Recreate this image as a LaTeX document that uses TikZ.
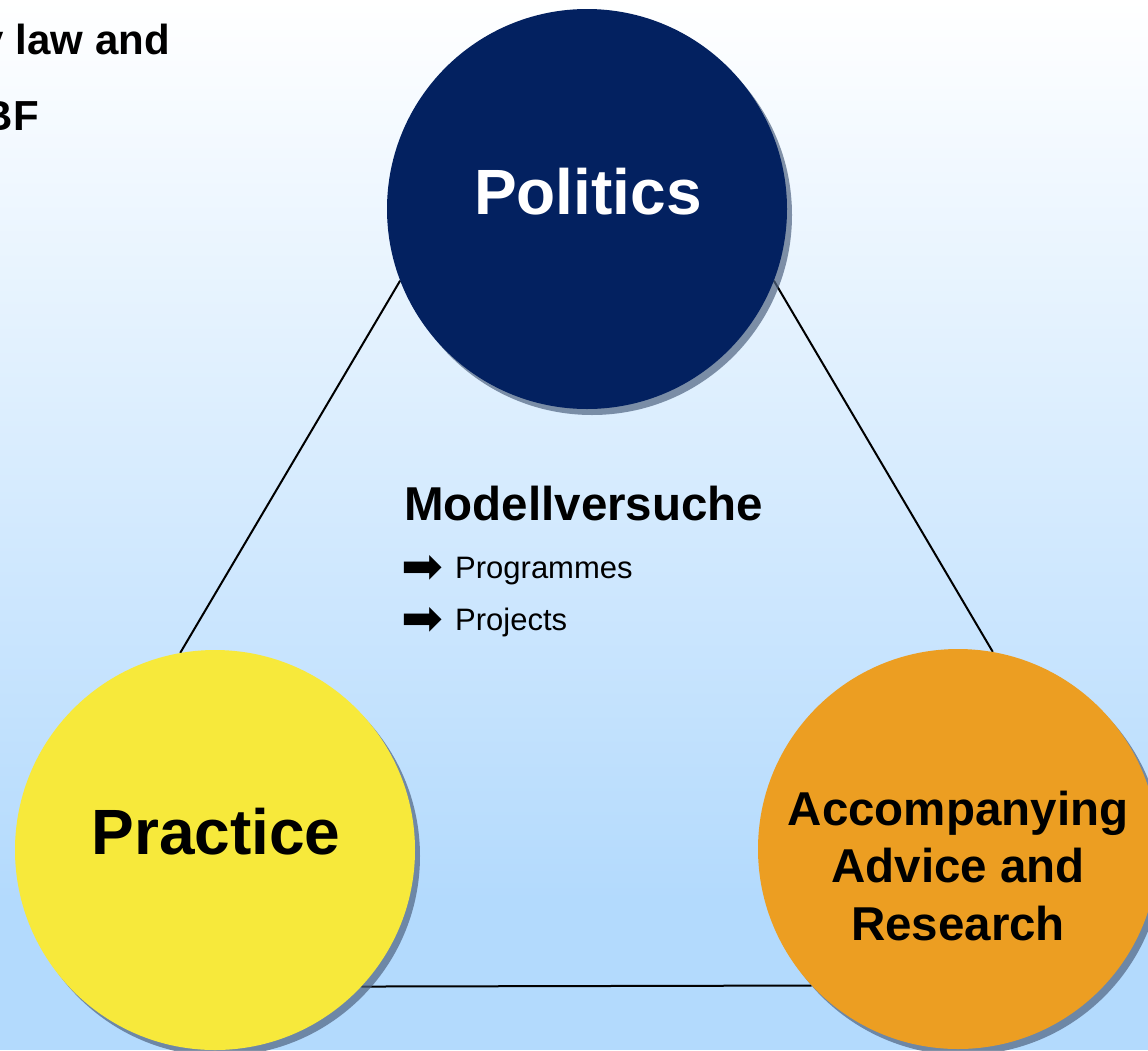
\documentclass[tikz,border=0pt]{standalone}
\usepackage{fontspec}
\setmainfont{Liberation Sans}
\newfontfamily\symfont{DejaVu Sans}
\usetikzlibrary{shadows}
\definecolor{navy}{RGB}{3,33,96}
\definecolor{sun}{RGB}{247,233,59}
\definecolor{amber}{RGB}{236,158,34}
\definecolor{bgblue}{RGB}{179,218,253}
\definecolor{shade}{RGB}{80,100,130}
\tikzset{
  bubble/.style={circle, minimum size=400pt, inner sep=0pt, draw=none,
    drop shadow={shadow xshift=5pt, shadow yshift=-6pt, fill=shade, opacity=0.7}},
  bigtitle/.style={anchor=base, inner sep=0pt, font=\fontsize{64}{64}\selectfont\bfseries},
  midtitle/.style={anchor=base, inner sep=0pt, font=\fontsize{47.5}{47.5}\selectfont\bfseries},
  cornertext/.style={anchor=base east, inner sep=0pt, font=\fontsize{42}{42}\selectfont\bfseries},
  itemtext/.style={anchor=base west, inner sep=0pt, font=\fontsize{31}{31}\selectfont},
  bulletarrow/.style={anchor=west, inner sep=0pt, font=\symfont\fontsize{50}{50}\selectfont},
  edge/.style={draw=black, line width=2pt}
}
\begin{document}
\begin{tikzpicture}[x=1pt,y=-1pt]
\useasboundingbox (0,0) rectangle (1148,1050);
\clip (0,0) rectangle (1148,1050);
% background
\fill[top color=white, bottom color=bgblue] (0,0) rectangle (1148,900);
\fill[bgblue] (0,899) rectangle (1148,1050);

% corner text (cut by the edge)
\node[cornertext] (c1) at (170,54) {by law and};
\node[cornertext] (c2) at (39,130) {BMBF};

% circles (positions)
\coordinate (polc) at (587,209);
\coordinate (prac) at (215,850);
\coordinate (accc) at (958,849);

% triangle edges (behind circles)
\path (polc) node[circle, minimum size=400pt, inner sep=0pt] (polx) {};
\path (prac) node[circle, minimum size=400pt, inner sep=0pt] (prax) {};
\path (accc) node[circle, minimum size=400pt, inner sep=0pt] (accx) {};
\draw[edge] (polx.201) -- (prax.100);
\draw[edge] (polx.339) -- (accx.80);
\draw[edge] (prax.-43) -- (accx.223);

% circles
\node[bubble, fill=navy] (pol) at (polc) {};
\node[bubble, fill=sun] (pra) at (prac) {};
\node[bubble, fill=amber] (acc) at (accc) {};

% circle labels
\node[bigtitle, text=white] (polt) at (588,214) {Politics};
\node[bigtitle] (prat) at (216,854) {Practice};
\node[midtitle] (acc1) at (958,825) {Accompanying};
\node[midtitle] (acc2) at (958,882) {Advice and};
\node[midtitle] (acc3) at (958,940) {Research};

% central text
\node[midtitle, anchor=base west] (mv) at (404,520) {Modellversuche};
\node[bulletarrow] (a1) at (401,569) {➡};
\node[itemtext] (i1) at (455,578) {Programmes};
\node[bulletarrow] (a2) at (401,621) {➡};
\node[itemtext] (i2) at (455,630) {Projects};
\end{tikzpicture}
\end{document}
